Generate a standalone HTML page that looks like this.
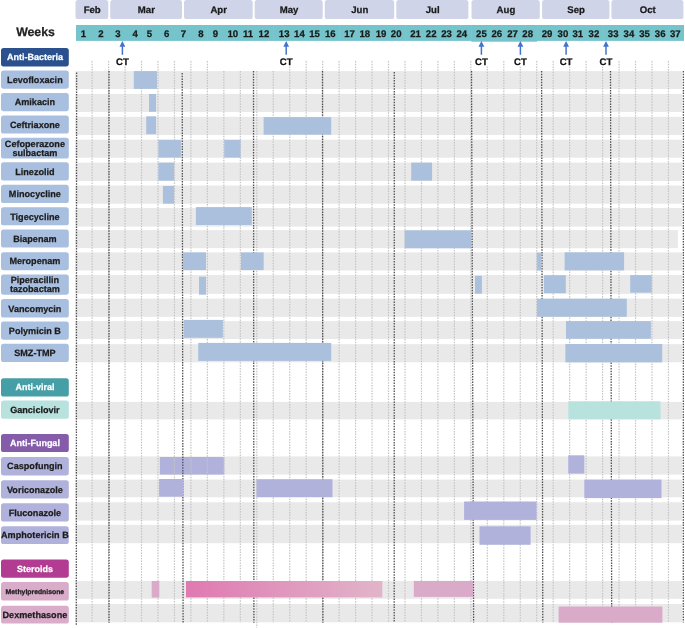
<!DOCTYPE html>
<html><head><meta charset="utf-8"><style>
html,body{margin:0;padding:0;background:#fff;width:685px;height:628px;overflow:hidden}
svg text{font-family:"Liberation Sans", sans-serif;stroke-width:0.25px;text-rendering:geometricPrecision}
</style></head><body>
<svg width="685" height="628" viewBox="0 0 685 628" style="position:absolute;left:0;top:0;will-change:transform">
<defs><linearGradient id="g1" x1="0" x2="1" y1="0" y2="0"><stop offset="0" stop-color="#df79b1"/><stop offset="1" stop-color="#e1b5c9"/></linearGradient></defs>
<rect x="75.5" y="0.0" width="32.80" height="19.10" rx="2.6" fill="#cfd4e8"/>
<text x="92.20" y="12.5" text-anchor="middle" font-size="9.6" font-weight="bold" fill="#1a1a1a" stroke="#1a1a1a">Feb</text>
<rect x="110.2" y="0.0" width="71.80" height="19.10" rx="2.6" fill="#cfd4e8"/>
<text x="146.40" y="12.5" text-anchor="middle" font-size="9.6" font-weight="bold" fill="#1a1a1a" stroke="#1a1a1a">Mar</text>
<rect x="184.0" y="0.0" width="68.70" height="19.10" rx="2.6" fill="#cfd4e8"/>
<text x="218.65" y="12.5" text-anchor="middle" font-size="9.6" font-weight="bold" fill="#1a1a1a" stroke="#1a1a1a">Apr</text>
<rect x="254.7" y="0.0" width="68.00" height="19.10" rx="2.6" fill="#cfd4e8"/>
<text x="289.00" y="12.5" text-anchor="middle" font-size="9.6" font-weight="bold" fill="#1a1a1a" stroke="#1a1a1a">May</text>
<rect x="324.8" y="0.0" width="69.40" height="19.10" rx="2.6" fill="#cfd4e8"/>
<text x="359.80" y="12.5" text-anchor="middle" font-size="9.6" font-weight="bold" fill="#1a1a1a" stroke="#1a1a1a">Jun</text>
<rect x="396.3" y="0.0" width="72.10" height="19.10" rx="2.6" fill="#cfd4e8"/>
<text x="432.65" y="12.5" text-anchor="middle" font-size="9.6" font-weight="bold" fill="#1a1a1a" stroke="#1a1a1a">Jul</text>
<rect x="471.5" y="0.0" width="68.30" height="19.10" rx="2.6" fill="#cfd4e8"/>
<text x="505.95" y="12.5" text-anchor="middle" font-size="9.6" font-weight="bold" fill="#1a1a1a" stroke="#1a1a1a">Aug</text>
<rect x="542.1" y="0.0" width="67.40" height="19.10" rx="2.6" fill="#cfd4e8"/>
<text x="576.10" y="12.5" text-anchor="middle" font-size="9.6" font-weight="bold" fill="#1a1a1a" stroke="#1a1a1a">Sep</text>
<rect x="611.4" y="0.0" width="72.00" height="19.10" rx="2.6" fill="#cfd4e8"/>
<text x="647.70" y="12.5" text-anchor="middle" font-size="9.6" font-weight="bold" fill="#1a1a1a" stroke="#1a1a1a">Oct</text>
<rect x="76.0" y="25.0" width="608.00" height="15.90" fill="#75c4cb"/>
<rect x="471.2" y="25.1" width="66.00" height="16.6" fill="#75c4cb"/>
<line x1="142.6" y1="25.0" x2="142.6" y2="40.9" stroke="#7dc8ce" stroke-width="0.8"/>
<line x1="207.5" y1="25.0" x2="207.5" y2="40.9" stroke="#7dc8ce" stroke-width="0.8"/>
<line x1="273.3" y1="25.0" x2="273.3" y2="40.9" stroke="#7dc8ce" stroke-width="0.8"/>
<line x1="339.5" y1="25.0" x2="339.5" y2="40.9" stroke="#7dc8ce" stroke-width="0.8"/>
<line x1="405.3" y1="25.0" x2="405.3" y2="40.9" stroke="#7dc8ce" stroke-width="0.8"/>
<line x1="471.3" y1="25.0" x2="471.3" y2="40.9" stroke="#7dc8ce" stroke-width="0.8"/>
<line x1="537.3" y1="25.0" x2="537.3" y2="40.9" stroke="#7dc8ce" stroke-width="0.8"/>
<line x1="603.1" y1="25.0" x2="603.1" y2="40.9" stroke="#7dc8ce" stroke-width="0.8"/>
<line x1="670.3" y1="25.0" x2="670.3" y2="40.9" stroke="#7dc8ce" stroke-width="0.8"/>
<text x="83.30" y="36.6" text-anchor="middle" font-size="9.6" font-weight="bold" fill="#1a1a1a" stroke="#1a1a1a">1</text>
<text x="100.90" y="36.6" text-anchor="middle" font-size="9.6" font-weight="bold" fill="#1a1a1a" stroke="#1a1a1a">2</text>
<text x="117.90" y="36.6" text-anchor="middle" font-size="9.6" font-weight="bold" fill="#1a1a1a" stroke="#1a1a1a">3</text>
<text x="135.20" y="36.6" text-anchor="middle" font-size="9.6" font-weight="bold" fill="#1a1a1a" stroke="#1a1a1a">4</text>
<text x="149.40" y="36.6" text-anchor="middle" font-size="9.6" font-weight="bold" fill="#1a1a1a" stroke="#1a1a1a">5</text>
<text x="166.70" y="36.6" text-anchor="middle" font-size="9.6" font-weight="bold" fill="#1a1a1a" stroke="#1a1a1a">6</text>
<text x="183.30" y="36.6" text-anchor="middle" font-size="9.6" font-weight="bold" fill="#1a1a1a" stroke="#1a1a1a">7</text>
<text x="200.80" y="36.6" text-anchor="middle" font-size="9.6" font-weight="bold" fill="#1a1a1a" stroke="#1a1a1a">8</text>
<text x="215.30" y="36.6" text-anchor="middle" font-size="9.6" font-weight="bold" fill="#1a1a1a" stroke="#1a1a1a">9</text>
<text x="232.80" y="36.6" text-anchor="middle" font-size="9.6" font-weight="bold" fill="#1a1a1a" stroke="#1a1a1a">10</text>
<text x="248.00" y="36.6" text-anchor="middle" font-size="9.6" font-weight="bold" fill="#1a1a1a" stroke="#1a1a1a">11</text>
<text x="263.90" y="36.6" text-anchor="middle" font-size="9.6" font-weight="bold" fill="#1a1a1a" stroke="#1a1a1a">12</text>
<text x="284.20" y="36.6" text-anchor="middle" font-size="9.6" font-weight="bold" fill="#1a1a1a" stroke="#1a1a1a">13</text>
<text x="299.40" y="36.6" text-anchor="middle" font-size="9.6" font-weight="bold" fill="#1a1a1a" stroke="#1a1a1a">14</text>
<text x="314.60" y="36.6" text-anchor="middle" font-size="9.6" font-weight="bold" fill="#1a1a1a" stroke="#1a1a1a">15</text>
<text x="330.30" y="36.6" text-anchor="middle" font-size="9.6" font-weight="bold" fill="#1a1a1a" stroke="#1a1a1a">16</text>
<text x="349.60" y="36.6" text-anchor="middle" font-size="9.6" font-weight="bold" fill="#1a1a1a" stroke="#1a1a1a">17</text>
<text x="364.80" y="36.6" text-anchor="middle" font-size="9.6" font-weight="bold" fill="#1a1a1a" stroke="#1a1a1a">18</text>
<text x="381.00" y="36.6" text-anchor="middle" font-size="9.6" font-weight="bold" fill="#1a1a1a" stroke="#1a1a1a">19</text>
<text x="396.20" y="36.6" text-anchor="middle" font-size="9.6" font-weight="bold" fill="#1a1a1a" stroke="#1a1a1a">20</text>
<text x="415.50" y="36.6" text-anchor="middle" font-size="9.6" font-weight="bold" fill="#1a1a1a" stroke="#1a1a1a">21</text>
<text x="431.20" y="36.6" text-anchor="middle" font-size="9.6" font-weight="bold" fill="#1a1a1a" stroke="#1a1a1a">22</text>
<text x="446.60" y="36.6" text-anchor="middle" font-size="9.6" font-weight="bold" fill="#1a1a1a" stroke="#1a1a1a">23</text>
<text x="461.80" y="36.6" text-anchor="middle" font-size="9.6" font-weight="bold" fill="#1a1a1a" stroke="#1a1a1a">24</text>
<text x="481.40" y="36.6" text-anchor="middle" font-size="9.6" font-weight="bold" fill="#1a1a1a" stroke="#1a1a1a">25</text>
<text x="496.80" y="36.6" text-anchor="middle" font-size="9.6" font-weight="bold" fill="#1a1a1a" stroke="#1a1a1a">26</text>
<text x="512.50" y="36.6" text-anchor="middle" font-size="9.6" font-weight="bold" fill="#1a1a1a" stroke="#1a1a1a">27</text>
<text x="527.70" y="36.6" text-anchor="middle" font-size="9.6" font-weight="bold" fill="#1a1a1a" stroke="#1a1a1a">28</text>
<text x="547.00" y="36.6" text-anchor="middle" font-size="9.6" font-weight="bold" fill="#1a1a1a" stroke="#1a1a1a">29</text>
<text x="562.90" y="36.6" text-anchor="middle" font-size="9.6" font-weight="bold" fill="#1a1a1a" stroke="#1a1a1a">30</text>
<text x="577.80" y="36.6" text-anchor="middle" font-size="9.6" font-weight="bold" fill="#1a1a1a" stroke="#1a1a1a">31</text>
<text x="593.90" y="36.6" text-anchor="middle" font-size="9.6" font-weight="bold" fill="#1a1a1a" stroke="#1a1a1a">32</text>
<text x="613.20" y="36.6" text-anchor="middle" font-size="9.6" font-weight="bold" fill="#1a1a1a" stroke="#1a1a1a">33</text>
<text x="628.90" y="36.6" text-anchor="middle" font-size="9.6" font-weight="bold" fill="#1a1a1a" stroke="#1a1a1a">34</text>
<text x="644.50" y="36.6" text-anchor="middle" font-size="9.6" font-weight="bold" fill="#1a1a1a" stroke="#1a1a1a">35</text>
<text x="660.20" y="36.6" text-anchor="middle" font-size="9.6" font-weight="bold" fill="#1a1a1a" stroke="#1a1a1a">36</text>
<text x="675.30" y="36.6" text-anchor="middle" font-size="9.6" font-weight="bold" fill="#1a1a1a" stroke="#1a1a1a">37</text>
<text x="35.5" y="36.0" text-anchor="middle" font-size="12.3" font-weight="bold" fill="#222" stroke="#222">Weeks</text>
<line x1="122.4" y1="46" x2="122.4" y2="54.8" stroke="#4672cb" stroke-width="1.5"/>
<path d="M119.50,46.7 L122.40,41.0 L125.30,46.7 Z" fill="#4672cb"/>
<line x1="286.2" y1="46" x2="286.2" y2="54.8" stroke="#4672cb" stroke-width="1.5"/>
<path d="M283.30,46.7 L286.20,41.0 L289.10,46.7 Z" fill="#4672cb"/>
<line x1="481.4" y1="46" x2="481.4" y2="54.8" stroke="#4672cb" stroke-width="1.5"/>
<path d="M478.50,46.7 L481.40,41.0 L484.30,46.7 Z" fill="#4672cb"/>
<line x1="520.4" y1="46" x2="520.4" y2="54.8" stroke="#4672cb" stroke-width="1.5"/>
<path d="M517.50,46.7 L520.40,41.0 L523.30,46.7 Z" fill="#4672cb"/>
<line x1="566.1" y1="46" x2="566.1" y2="54.8" stroke="#4672cb" stroke-width="1.5"/>
<path d="M563.20,46.7 L566.10,41.0 L569.00,46.7 Z" fill="#4672cb"/>
<line x1="606.0" y1="46" x2="606.0" y2="54.8" stroke="#4672cb" stroke-width="1.5"/>
<path d="M603.10,46.7 L606.00,41.0 L608.90,46.7 Z" fill="#4672cb"/>
<rect x="75.2" y="71.1" width="606.80" height="17.90" fill="#e9e9e9"/>
<rect x="75.2" y="93.9" width="606.80" height="18.10" fill="#e9e9e9"/>
<rect x="75.2" y="116.8" width="606.80" height="18.20" fill="#e9e9e9"/>
<rect x="75.2" y="139.7" width="606.80" height="18.00" fill="#e9e9e9"/>
<rect x="75.2" y="162.6" width="606.80" height="18.40" fill="#e9e9e9"/>
<rect x="75.2" y="185.5" width="606.80" height="18.20" fill="#e9e9e9"/>
<rect x="75.2" y="208.0" width="606.80" height="18.60" fill="#e9e9e9"/>
<rect x="75.2" y="230.1" width="602.70" height="18.10" fill="#e9e9e9"/>
<rect x="75.2" y="252.4" width="606.80" height="18.10" fill="#e9e9e9"/>
<rect x="75.2" y="275.0" width="606.80" height="18.80" fill="#e9e9e9"/>
<rect x="75.2" y="298.6" width="606.80" height="18.30" fill="#e9e9e9"/>
<rect x="75.2" y="321.1" width="606.80" height="17.90" fill="#e9e9e9"/>
<rect x="75.2" y="344.2" width="606.80" height="18.10" fill="#e9e9e9"/>
<rect x="75.2" y="401.9" width="606.80" height="17.50" fill="#e9e9e9"/>
<rect x="75.2" y="456.4" width="606.80" height="18.20" fill="#e9e9e9"/>
<rect x="75.2" y="479.6" width="606.80" height="17.70" fill="#e9e9e9"/>
<rect x="75.2" y="502.3" width="606.80" height="18.30" fill="#e9e9e9"/>
<rect x="75.2" y="524.8" width="606.80" height="18.40" fill="#e9e9e9"/>
<rect x="75.2" y="581.0" width="606.80" height="17.80" fill="#e9e9e9"/>
<rect x="75.2" y="604.0" width="606.80" height="18.30" fill="#e9e9e9"/>
<rect x="159.8" y="457.0" width="64.50" height="17.60" fill="#b1b2dc"/>
<line x1="92.11" y1="61" x2="92.11" y2="622.3" stroke="#c4c4c4" stroke-width="1.2" stroke-dasharray="1.5 1.2"/>
<line x1="108.58" y1="61" x2="108.58" y2="622.3" stroke="#c4c4c4" stroke-width="1.2" stroke-dasharray="1.5 1.2"/>
<line x1="125.05" y1="61" x2="125.05" y2="622.3" stroke="#c4c4c4" stroke-width="1.2" stroke-dasharray="1.5 1.2"/>
<line x1="141.51" y1="61" x2="141.51" y2="622.3" stroke="#c4c4c4" stroke-width="1.2" stroke-dasharray="1.5 1.2"/>
<line x1="157.98" y1="61" x2="157.98" y2="622.3" stroke="#c4c4c4" stroke-width="1.2" stroke-dasharray="1.5 1.2"/>
<line x1="174.45" y1="61" x2="174.45" y2="622.3" stroke="#c4c4c4" stroke-width="1.2" stroke-dasharray="1.5 1.2"/>
<line x1="190.91" y1="61" x2="190.91" y2="622.3" stroke="#c4c4c4" stroke-width="1.2" stroke-dasharray="1.5 1.2"/>
<line x1="207.38" y1="61" x2="207.38" y2="622.3" stroke="#c4c4c4" stroke-width="1.2" stroke-dasharray="1.5 1.2"/>
<line x1="223.85" y1="71" x2="223.85" y2="622.3" stroke="#c4c4c4" stroke-width="1.2" stroke-dasharray="1.5 1.2"/>
<line x1="240.31" y1="71" x2="240.31" y2="622.3" stroke="#c4c4c4" stroke-width="1.2" stroke-dasharray="1.5 1.2"/>
<line x1="256.78" y1="71" x2="256.78" y2="628" stroke="#c4c4c4" stroke-width="1.2" stroke-dasharray="1.5 1.2"/>
<line x1="273.25" y1="71" x2="273.25" y2="622.3" stroke="#c4c4c4" stroke-width="1.2" stroke-dasharray="1.5 1.2"/>
<line x1="289.72" y1="61" x2="289.72" y2="622.3" stroke="#c4c4c4" stroke-width="1.2" stroke-dasharray="1.5 1.2"/>
<line x1="306.18" y1="61" x2="306.18" y2="622.3" stroke="#c4c4c4" stroke-width="1.2" stroke-dasharray="1.5 1.2"/>
<line x1="322.65" y1="61" x2="322.65" y2="622.3" stroke="#c4c4c4" stroke-width="1.2" stroke-dasharray="1.5 1.2"/>
<line x1="339.12" y1="61" x2="339.12" y2="622.3" stroke="#c4c4c4" stroke-width="1.2" stroke-dasharray="1.5 1.2"/>
<line x1="355.58" y1="61" x2="355.58" y2="622.3" stroke="#c4c4c4" stroke-width="1.2" stroke-dasharray="1.5 1.2"/>
<line x1="372.05" y1="61" x2="372.05" y2="622.3" stroke="#c4c4c4" stroke-width="1.2" stroke-dasharray="1.5 1.2"/>
<line x1="388.52" y1="61" x2="388.52" y2="622.3" stroke="#c4c4c4" stroke-width="1.2" stroke-dasharray="1.5 1.2"/>
<line x1="404.98" y1="61" x2="404.98" y2="622.3" stroke="#c4c4c4" stroke-width="1.2" stroke-dasharray="1.5 1.2"/>
<line x1="421.45" y1="61" x2="421.45" y2="622.3" stroke="#c4c4c4" stroke-width="1.2" stroke-dasharray="1.5 1.2"/>
<line x1="437.92" y1="61" x2="437.92" y2="622.3" stroke="#c4c4c4" stroke-width="1.2" stroke-dasharray="1.5 1.2"/>
<line x1="454.39" y1="61" x2="454.39" y2="622.3" stroke="#c4c4c4" stroke-width="1.2" stroke-dasharray="1.5 1.2"/>
<line x1="470.85" y1="61" x2="470.85" y2="622.3" stroke="#c4c4c4" stroke-width="1.2" stroke-dasharray="1.5 1.2"/>
<line x1="487.32" y1="61" x2="487.32" y2="622.3" stroke="#c4c4c4" stroke-width="1.2" stroke-dasharray="1.5 1.2"/>
<line x1="503.79" y1="61" x2="503.79" y2="622.3" stroke="#c4c4c4" stroke-width="1.2" stroke-dasharray="1.5 1.2"/>
<line x1="520.25" y1="61" x2="520.25" y2="622.3" stroke="#c4c4c4" stroke-width="1.2" stroke-dasharray="1.5 1.2"/>
<line x1="536.72" y1="61" x2="536.72" y2="622.3" stroke="#c4c4c4" stroke-width="1.2" stroke-dasharray="1.5 1.2"/>
<line x1="553.19" y1="61" x2="553.19" y2="622.3" stroke="#c4c4c4" stroke-width="1.2" stroke-dasharray="1.5 1.2"/>
<line x1="569.65" y1="61" x2="569.65" y2="622.3" stroke="#c4c4c4" stroke-width="1.2" stroke-dasharray="1.5 1.2"/>
<line x1="586.12" y1="61" x2="586.12" y2="622.3" stroke="#c4c4c4" stroke-width="1.2" stroke-dasharray="1.5 1.2"/>
<line x1="602.59" y1="61" x2="602.59" y2="622.3" stroke="#c4c4c4" stroke-width="1.2" stroke-dasharray="1.5 1.2"/>
<line x1="619.06" y1="61" x2="619.06" y2="622.3" stroke="#c4c4c4" stroke-width="1.2" stroke-dasharray="1.5 1.2"/>
<line x1="635.52" y1="61" x2="635.52" y2="622.3" stroke="#c4c4c4" stroke-width="1.2" stroke-dasharray="1.5 1.2"/>
<line x1="651.99" y1="61" x2="651.99" y2="622.3" stroke="#c4c4c4" stroke-width="1.2" stroke-dasharray="1.5 1.2"/>
<line x1="668.46" y1="61" x2="668.46" y2="622.3" stroke="#c4c4c4" stroke-width="1.2" stroke-dasharray="1.5 1.2"/>
<line x1="76.6" y1="72.5" x2="76.3" y2="625.8" stroke="#505050" stroke-width="1.3" stroke-dasharray="1.5 1.2"/>
<line x1="109.0" y1="71" x2="109.05" y2="622.8" stroke="#505050" stroke-width="1.3" stroke-dasharray="1.5 1.2"/>
<line x1="182.2" y1="73" x2="183.1" y2="622.7" stroke="#505050" stroke-width="1.3" stroke-dasharray="1.5 1.2"/>
<line x1="253.5" y1="71" x2="253.9" y2="622.7" stroke="#505050" stroke-width="1.3" stroke-dasharray="1.5 1.2"/>
<line x1="322.5" y1="71" x2="322.9" y2="622.7" stroke="#505050" stroke-width="1.3" stroke-dasharray="1.5 1.2"/>
<line x1="394.3" y1="72" x2="394.2" y2="622.5" stroke="#505050" stroke-width="1.3" stroke-dasharray="1.5 1.2"/>
<line x1="471.5" y1="71" x2="473.6" y2="622.5" stroke="#505050" stroke-width="1.3" stroke-dasharray="1.5 1.2"/>
<line x1="541.6" y1="71" x2="542.8" y2="622.5" stroke="#505050" stroke-width="1.3" stroke-dasharray="1.5 1.2"/>
<line x1="610.5" y1="71" x2="611.7" y2="622.5" stroke="#505050" stroke-width="1.3" stroke-dasharray="1.5 1.2"/>
<line x1="683.4" y1="71" x2="683.3" y2="622.5" stroke="#505050" stroke-width="1.3" stroke-dasharray="1.5 1.2"/>
<rect x="133.8" y="71.1" width="23.20" height="17.80" fill="#abc0dd"/>
<rect x="149.0" y="94.0" width="7.10" height="17.80" fill="#abc0dd"/>
<rect x="146.2" y="116.3" width="9.90" height="17.90" fill="#abc0dd"/>
<rect x="263.6" y="117.1" width="67.60" height="17.60" fill="#abc0dd"/>
<rect x="158.4" y="139.8" width="22.50" height="17.80" fill="#abc0dd"/>
<rect x="224.2" y="139.8" width="16.40" height="17.80" fill="#abc0dd"/>
<rect x="158.3" y="162.6" width="15.80" height="18.10" fill="#abc0dd"/>
<rect x="411.2" y="162.6" width="20.90" height="18.10" fill="#abc0dd"/>
<rect x="162.9" y="185.9" width="11.20" height="17.80" fill="#abc0dd"/>
<rect x="195.9" y="207.1" width="55.90" height="17.90" fill="#abc0dd"/>
<rect x="404.7" y="230.3" width="66.30" height="18.00" fill="#abc0dd"/>
<rect x="183.0" y="252.4" width="23.00" height="17.70" fill="#abc0dd"/>
<rect x="241.0" y="252.4" width="22.70" height="17.70" fill="#abc0dd"/>
<rect x="536.8" y="252.6" width="4.60" height="17.90" fill="#abc0dd"/>
<rect x="564.6" y="252.3" width="59.50" height="18.10" fill="#abc0dd"/>
<rect x="199.0" y="276.7" width="7.00" height="18.00" fill="#abc0dd"/>
<rect x="475.0" y="275.8" width="6.90" height="17.90" fill="#abc0dd"/>
<rect x="544.0" y="275.2" width="21.80" height="18.00" fill="#abc0dd"/>
<rect x="630.2" y="275.1" width="21.60" height="17.60" fill="#abc0dd"/>
<rect x="536.9" y="298.7" width="89.90" height="18.10" fill="#abc0dd"/>
<rect x="183.8" y="319.9" width="39.10" height="17.90" fill="#abc0dd"/>
<rect x="566.0" y="321.1" width="84.90" height="17.70" fill="#abc0dd"/>
<rect x="198.2" y="342.9" width="133.00" height="18.00" fill="#abc0dd"/>
<rect x="565.4" y="344.0" width="96.80" height="18.40" fill="#abc0dd"/>
<rect x="568.3" y="401.3" width="92.20" height="18.00" fill="#b7e2de"/>
<rect x="568.2" y="455.3" width="16.10" height="18.30" fill="#b1b2dc"/>
<rect x="159.1" y="479.0" width="24.40" height="17.70" fill="#b1b2dc"/>
<rect x="256.5" y="479.2" width="76.00" height="18.00" fill="#b1b2dc"/>
<rect x="584.3" y="479.6" width="77.20" height="18.50" fill="#b1b2dc"/>
<rect x="464.1" y="501.5" width="72.50" height="18.40" fill="#b1b2dc"/>
<rect x="479.5" y="526.3" width="51.10" height="18.50" fill="#b1b2dc"/>
<rect x="151.7" y="581.0" width="7.60" height="16.60" fill="#d9abc9"/>
<rect x="186.0" y="581.0" width="196.30" height="16.40" fill="url(#g1)"/>
<rect x="413.8" y="580.9" width="59.20" height="16.00" fill="#d9abc9"/>
<rect x="558.6" y="606.5" width="103.80" height="16.20" fill="#d9abc9"/>
<rect x="115.40" y="57" width="14" height="9.3" fill="#fff"/>
<text x="122.40" y="64.6" text-anchor="middle" font-size="9.6" font-weight="bold" fill="#111" stroke="#111">CT</text>
<rect x="279.20" y="57" width="14" height="9.3" fill="#fff"/>
<text x="286.20" y="64.6" text-anchor="middle" font-size="9.6" font-weight="bold" fill="#111" stroke="#111">CT</text>
<rect x="474.40" y="57" width="14" height="9.3" fill="#fff"/>
<text x="481.40" y="64.6" text-anchor="middle" font-size="9.6" font-weight="bold" fill="#111" stroke="#111">CT</text>
<rect x="513.40" y="57" width="14" height="9.3" fill="#fff"/>
<text x="520.40" y="64.6" text-anchor="middle" font-size="9.6" font-weight="bold" fill="#111" stroke="#111">CT</text>
<rect x="559.10" y="57" width="14" height="9.3" fill="#fff"/>
<text x="566.10" y="64.6" text-anchor="middle" font-size="9.6" font-weight="bold" fill="#111" stroke="#111">CT</text>
<rect x="599.00" y="57" width="14" height="9.3" fill="#fff"/>
<text x="606.00" y="64.6" text-anchor="middle" font-size="9.6" font-weight="bold" fill="#111" stroke="#111">CT</text>
<rect x="1.0" y="48.0" width="67.8" height="18.40" rx="2.6" fill="#2a518d"/>
<text x="34.9" y="59.84" text-anchor="middle" font-size="9.0" font-weight="bold" fill="#ffffff" stroke="#ffffff">Anti-Bacteria</text>
<rect x="1.0" y="70.5" width="67.8" height="18.20" rx="2.6" fill="#a9bfdf"/>
<text x="34.9" y="82.88" text-anchor="middle" font-size="9.1" font-weight="bold" fill="#1c1c1c" stroke="#1c1c1c">Levofloxacin</text>
<rect x="1.0" y="93.1" width="67.8" height="18.10" rx="2.6" fill="#a9bfdf"/>
<text x="34.9" y="105.43" text-anchor="middle" font-size="9.1" font-weight="bold" fill="#1c1c1c" stroke="#1c1c1c">Amikacin</text>
<rect x="1.0" y="115.5" width="67.8" height="18.10" rx="2.6" fill="#a9bfdf"/>
<text x="34.9" y="127.83" text-anchor="middle" font-size="9.1" font-weight="bold" fill="#1c1c1c" stroke="#1c1c1c">Ceftriaxone</text>
<rect x="1.0" y="137.8" width="67.8" height="20.70" rx="2.6" fill="#a9bfdf"/>
<text x="34.9" y="146.95" text-anchor="middle" font-size="9.1" font-weight="bold" fill="#1c1c1c" stroke="#1c1c1c">Cefoperazone</text>
<text x="34.9" y="155.55" text-anchor="middle" font-size="9.1" font-weight="bold" fill="#1c1c1c" stroke="#1c1c1c">sulbactam</text>
<rect x="1.0" y="162.3" width="67.8" height="18.30" rx="2.6" fill="#a9bfdf"/>
<text x="34.9" y="174.73" text-anchor="middle" font-size="9.1" font-weight="bold" fill="#1c1c1c" stroke="#1c1c1c">Linezolid</text>
<rect x="1.0" y="184.7" width="67.8" height="18.30" rx="2.6" fill="#a9bfdf"/>
<text x="34.9" y="197.13" text-anchor="middle" font-size="9.1" font-weight="bold" fill="#1c1c1c" stroke="#1c1c1c">Minocycline</text>
<rect x="1.0" y="207.3" width="67.8" height="18.00" rx="2.6" fill="#a9bfdf"/>
<text x="34.9" y="219.58" text-anchor="middle" font-size="9.1" font-weight="bold" fill="#1c1c1c" stroke="#1c1c1c">Tigecycline</text>
<rect x="1.0" y="229.6" width="67.8" height="18.00" rx="2.6" fill="#a9bfdf"/>
<text x="34.9" y="241.88" text-anchor="middle" font-size="9.1" font-weight="bold" fill="#1c1c1c" stroke="#1c1c1c">Biapenam</text>
<rect x="1.0" y="252.2" width="67.8" height="18.00" rx="2.6" fill="#a9bfdf"/>
<text x="34.9" y="264.48" text-anchor="middle" font-size="9.1" font-weight="bold" fill="#1c1c1c" stroke="#1c1c1c">Meropenam</text>
<rect x="1.0" y="274.5" width="67.8" height="20.20" rx="2.6" fill="#a9bfdf"/>
<text x="34.9" y="283.40" text-anchor="middle" font-size="9.1" font-weight="bold" fill="#1c1c1c" stroke="#1c1c1c">Piperacillin</text>
<text x="34.9" y="292.00" text-anchor="middle" font-size="9.1" font-weight="bold" fill="#1c1c1c" stroke="#1c1c1c">tazobactam</text>
<rect x="1.0" y="299.1" width="67.8" height="18.40" rx="2.6" fill="#a9bfdf"/>
<text x="34.9" y="311.58" text-anchor="middle" font-size="9.1" font-weight="bold" fill="#1c1c1c" stroke="#1c1c1c">Vancomycin</text>
<rect x="1.0" y="321.4" width="67.8" height="18.30" rx="2.6" fill="#a9bfdf"/>
<text x="34.9" y="333.83" text-anchor="middle" font-size="9.1" font-weight="bold" fill="#1c1c1c" stroke="#1c1c1c">Polymicin B</text>
<rect x="1.0" y="343.8" width="67.8" height="18.20" rx="2.6" fill="#a9bfdf"/>
<text x="34.9" y="356.18" text-anchor="middle" font-size="9.1" font-weight="bold" fill="#1c1c1c" stroke="#1c1c1c">SMZ-TMP</text>
<rect x="1.0" y="378.2" width="67.8" height="18.30" rx="2.6" fill="#469ea6"/>
<text x="34.9" y="390.39" text-anchor="middle" font-size="9.0" font-weight="bold" fill="#ffffff" stroke="#ffffff">Anti-viral</text>
<rect x="1.0" y="400.5" width="67.8" height="18.30" rx="2.6" fill="#b7e2de"/>
<text x="34.9" y="412.93" text-anchor="middle" font-size="9.1" font-weight="bold" fill="#1c1c1c" stroke="#1c1c1c">Ganciclovir</text>
<rect x="1.0" y="434.0" width="67.8" height="18.00" rx="2.6" fill="#845ca9"/>
<text x="34.9" y="446.04" text-anchor="middle" font-size="9.0" font-weight="bold" fill="#ffffff" stroke="#ffffff">Anti-Fungal</text>
<rect x="1.0" y="457.0" width="67.8" height="18.40" rx="2.6" fill="#b1b2dc"/>
<text x="34.9" y="469.48" text-anchor="middle" font-size="9.1" font-weight="bold" fill="#1c1c1c" stroke="#1c1c1c">Caspofungin</text>
<rect x="1.0" y="480.2" width="67.8" height="18.30" rx="2.6" fill="#b1b2dc"/>
<text x="34.9" y="492.63" text-anchor="middle" font-size="9.1" font-weight="bold" fill="#1c1c1c" stroke="#1c1c1c">Voriconazole</text>
<rect x="1.0" y="503.2" width="67.8" height="18.40" rx="2.6" fill="#b1b2dc"/>
<text x="34.9" y="515.68" text-anchor="middle" font-size="9.1" font-weight="bold" fill="#1c1c1c" stroke="#1c1c1c">Fluconazole</text>
<rect x="1.0" y="526.3" width="67.8" height="17.70" rx="2.6" fill="#b1b2dc"/>
<text x="34.9" y="538.43" text-anchor="middle" font-size="9.1" font-weight="bold" fill="#1c1c1c" stroke="#1c1c1c">Amphotericin B</text>
<rect x="1.0" y="559.5" width="67.8" height="18.20" rx="2.6" fill="#b33c93"/>
<text x="34.9" y="571.64" text-anchor="middle" font-size="9.0" font-weight="bold" fill="#ffffff" stroke="#ffffff">Steroids</text>
<rect x="1.0" y="582.1" width="67.8" height="18.40" rx="2.6" fill="#d9adc9"/>
<text x="34.9" y="593.77" text-anchor="middle" font-size="6.85" font-weight="bold" fill="#1c1c1c" stroke="#1c1c1c">Methylprednisone</text>
<rect x="1.0" y="605.7" width="67.8" height="17.80" rx="2.6" fill="#d9adc9"/>
<text x="34.9" y="617.88" text-anchor="middle" font-size="9.1" font-weight="bold" fill="#1c1c1c" stroke="#1c1c1c">Dexmethasone</text>
</svg>
</body></html>
